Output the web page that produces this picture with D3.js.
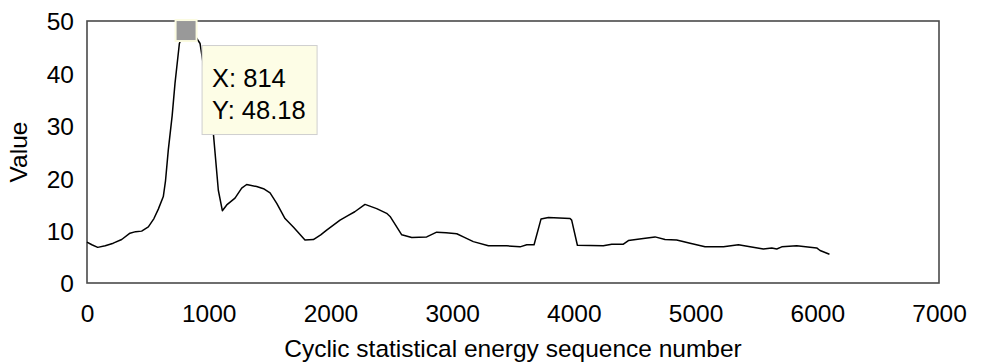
<!DOCTYPE html>
<html>
<head>
<meta charset="utf-8">
<script src="https://cdn.jsdelivr.net/npm/d3@7"></script>
<style>
  html, body { margin: 0; padding: 0; background: #fff; }
  svg { display: block; }
  text { font-family: "Liberation Sans", Arial, Helvetica, sans-serif; fill: #000; }
</style>
</head>
<body>
<svg id="chart" width="984" height="362"></svg>
<script>
// ---- data ----
const seqNumbers = [0, 40, 88, 150, 216, 285, 353, 400, 449, 504, 550, 586, 627, 645, 668, 700, 723, 759, 790, 814, 870, 929, 980, 1038, 1079, 1112, 1148, 1216, 1271, 1312, 1394, 1450, 1504, 1559, 1627, 1695, 1791, 1860, 1920, 1969, 2079, 2147, 2200, 2284, 2380, 2462, 2490, 2586, 2668, 2791, 2873, 2950, 3038, 3092, 3174, 3298, 3448, 3558, 3613, 3673, 3730, 3791, 3969, 3982, 4029, 4242, 4311, 4407, 4448, 4571, 4667, 4749, 4845, 4955, 5078, 5229, 5352, 5448, 5557, 5626, 5667, 5708, 5831, 5995, 6023, 6100];
const energyValues = [7.8, 7.3, 6.8, 7.1, 7.6, 8.3, 9.5, 9.8, 9.9, 10.7, 12.3, 14.1, 16.5, 19.5, 25.4, 32, 38.1, 45.7, 47.5, 48.18, 47.8, 45.7, 38, 28.6, 17.7, 13.8, 14.9, 16.2, 18.1, 18.8, 18.4, 18.0, 17.2, 15.2, 12.3, 10.7, 8.2, 8.3, 9.2, 10.1, 12.0, 12.9, 13.6, 15.0, 14.2, 13.3, 12.7, 9.2, 8.7, 8.8, 9.7, 9.6, 9.4, 8.8, 7.9, 7.1, 7.1, 6.9, 7.3, 7.3, 12.2, 12.5, 12.3, 12.0, 7.2, 7.1, 7.4, 7.4, 8.1, 8.5, 8.8, 8.3, 8.2, 7.6, 6.9, 6.9, 7.3, 6.9, 6.5, 6.7, 6.5, 6.9, 7.1, 6.7, 6.2, 5.5];
const xTicks = [0, 1000, 2000, 3000, 4000, 5000, 6000, 7000];
const yTicks = [0, 10, 20, 30, 40, 50];
const highlightPoint = { x: 814, y: 48.18 };
const xTitle = "Cyclic statistical energy sequence number";
const yTitle = "Value";

// ---- layout ----
const plotLeft = 87, plotRight = 939, plotTop = 21, plotBottom = 283;
const svg = d3.select("#chart");
const x = d3.scaleLinear().domain([0, 7000]).range([plotLeft, plotRight]);
const y = d3.scaleLinear().domain([0, 50]).range([plotBottom, plotTop]);

// frame
svg.append("rect")
  .attr("x", plotLeft).attr("y", plotTop)
  .attr("width", plotRight - plotLeft).attr("height", plotBottom - plotTop)
  .attr("fill", "#fff").attr("stroke", "#4a4a4a").attr("stroke-width", 1.6);

// axes
const xAxis = svg.append("g").attr("transform", `translate(0,${plotBottom})`)
  .call(d3.axisBottom(x).tickValues(xTicks).tickSize(0).tickFormat(d3.format("d")));
xAxis.select(".domain").remove();
xAxis.selectAll("text").attr("y", 39).attr("dy", null)
  .style("font-size", "24.5px").style("font-family", '"Liberation Sans", Arial, sans-serif');

const yAxis = svg.append("g").attr("transform", `translate(${plotLeft},0)`)
  .call(d3.axisLeft(y).tickValues(yTicks).tickSize(0).tickPadding(13).tickFormat(d3.format("d")));
yAxis.select(".domain").remove();
yAxis.selectAll("text").attr("dy", "0.36em")
  .style("font-size", "24.5px").style("font-family", '"Liberation Sans", Arial, sans-serif');

// titles
svg.append("text")
  .attr("x", (plotLeft + plotRight) / 2).attr("y", 357)
  .attr("text-anchor", "middle").style("font-size", "24.5px")
  .text(xTitle);
svg.append("text")
  .attr("transform", `translate(27,${(plotTop + plotBottom) / 2}) rotate(-90)`)
  .attr("text-anchor", "middle").style("font-size", "24.5px")
  .text(yTitle);

// line
const data = seqNumbers.map((d, i) => ({ x: d, y: energyValues[i] }));
svg.append("path")
  .datum(data)
  .attr("fill", "none")
  .attr("stroke", "#000")
  .attr("stroke-width", 1.5)
  .attr("stroke-linejoin", "round")
  .attr("d", d3.line().x(d => x(d.x)).y(d => y(d.y)));

// highlight marker
const mx = x(highlightPoint.x), my = y(highlightPoint.y);
svg.append("rect")
  .attr("x", mx - 10.5).attr("y", my - 10.5)
  .attr("width", 21).attr("height", 21)
  .attr("fill", "#999").attr("stroke", "#fbfbe0").attr("stroke-width", 2);

// tooltip
const tx = mx + 16, ty = my + 15;
const tip = svg.append("g").attr("transform", `translate(${tx},${ty})`);
tip.append("rect")
  .attr("x", 0).attr("y", 0).attr("width", 115).attr("height", 89)
  .attr("fill", "#fdfde6").attr("stroke", "#cfcfcf").attr("stroke-width", 1);
tip.append("text").attr("x", 10).attr("y", 41).style("font-size", "25.5px")
  .text("X: " + highlightPoint.x);
tip.append("text").attr("x", 10).attr("y", 73).style("font-size", "25.5px")
  .text("Y: " + highlightPoint.y.toFixed(2));
</script>
</body>
</html>
